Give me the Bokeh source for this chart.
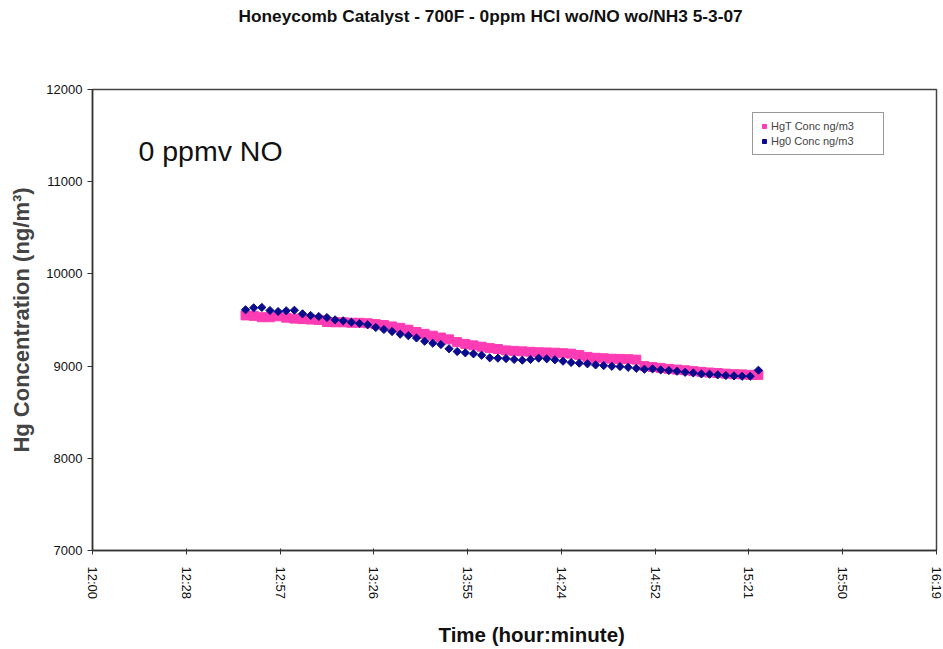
import math
from bokeh.plotting import figure
from bokeh.models import Label, FixedTicker, Legend, LegendItem, ColumnDataSource, Range1d, Title
from bokeh.embed import file_html
from bokeh.resources import INLINE

# ---------------- data ----------------
times = [
    "12:47:00", "12:49:30", "12:52:00", "12:54:30", "12:57:00", "12:59:30", "13:02:00", "13:04:30",
    "13:07:00", "13:09:30", "13:12:00", "13:14:30", "13:17:00", "13:19:30", "13:22:00", "13:24:30",
    "13:27:00", "13:29:30", "13:32:00", "13:34:30", "13:37:00", "13:39:30", "13:42:00", "13:44:30",
    "13:47:00", "13:49:30", "13:52:00", "13:54:30", "13:57:00", "13:59:30", "14:02:00", "14:04:30",
    "14:07:00", "14:09:30", "14:12:00", "14:14:30", "14:17:00", "14:19:30", "14:22:00", "14:24:30",
    "14:27:00", "14:29:30", "14:32:00", "14:34:30", "14:37:00", "14:39:30", "14:42:00", "14:44:30",
    "14:47:00", "14:49:30", "14:52:00", "14:54:30", "14:57:00", "14:59:30", "15:02:00", "15:04:30",
    "15:07:00", "15:09:30", "15:12:00", "15:14:30", "15:17:00", "15:19:30", "15:22:00", "15:24:30",
]

hgt_conc = [
    9550, 9545, 9530, 9530, 9540, 9525, 9515, 9510, 9505, 9500, 9478, 9475, 9475, 9470, 9470, 9465,
    9455, 9445, 9430, 9415, 9395, 9370, 9350, 9330, 9310, 9290, 9260, 9240, 9225, 9210, 9195, 9185,
    9170, 9165, 9160, 9155, 9150, 9148, 9145, 9140, 9135, 9120, 9100, 9090, 9085, 9080, 9078, 9075,
    9070, 9000, 8990, 8980, 8970, 8962, 8955, 8945, 8938, 8930, 8925, 8918, 8912, 8910, 8905, 8905,
]

hg0_conc = [
    9611, 9632, 9636, 9603, 9592, 9600, 9606, 9567, 9549, 9538, 9527, 9502, 9491, 9476, 9462, 9448,
    9419, 9397, 9375, 9346, 9330, 9305, 9270, 9248, 9234, 9188, 9158, 9144, 9133, 9118, 9090, 9086,
    9082, 9072, 9064, 9072, 9086, 9079, 9068, 9053, 9039, 9032, 9025, 9013, 9006, 8998, 8995, 8987,
    8976, 8966, 8970, 8959, 8952, 8944, 8933, 8926, 8915, 8912, 8905, 8898, 8894, 8890, 8890, 8955,
]

x_tick_days = [0.50, 0.52, 0.54, 0.56, 0.58, 0.60, 0.62, 0.64, 0.66, 0.68]
x_tick_labels = ["12:00", "12:28", "12:57", "13:26", "13:55", "14:24", "14:52", "15:21", "15:50", "16:19"]
y_ticks = [7000, 8000, 9000, 10000, 11000, 12000]

title_text = "Honeycomb Catalyst - 700F - 0ppm HCl wo/NO wo/NH3 5-3-07"
x_label_text = "Time (hour:minute)"
y_label_text = "Hg Concentration (ng/m\u00b3)"
note_text = "0 ppmv NO"
series_names = ["HgT Conc ng/m3", "Hg0 Conc ng/m3"]


def to_day(s):
    h, m, sec = (int(v) for v in s.split(":"))
    return (h * 3600 + m * 60 + sec) / 86400.0


x_days = [to_day(t) for t in times]
src = ColumnDataSource(data=dict(x=x_days, hgt=hgt_conc, hg0=hg0_conc))

FONT = "Liberation Sans"
PINK = "#FF3CB4"
NAVY = "#0A0A8C"

p = figure(
    width=943, height=649,
    x_range=Range1d(0.50, 0.68), y_range=Range1d(7000, 12000),
    output_backend="svg", toolbar_location=None,
    min_border_left=92, min_border_right=7, min_border_top=89, min_border_bottom=99,
)
p.background_fill_color = "white"
p.border_fill_color = "white"
p.outline_line_color = "#444444"
p.outline_line_width = 1.5
p.xgrid.visible = False
p.ygrid.visible = False

r_hgt = p.scatter("x", "hgt", source=src, marker="square", size=9,
                  fill_color=PINK, line_color=PINK)
r_hg0 = p.scatter("x", "hg0", source=src, marker="square", angle=math.pi / 4, size=5.8,
                  fill_color=NAVY, line_color=NAVY)

# x axis
xa = p.xaxis[0]
xa.ticker = FixedTicker(ticks=x_tick_days)
xa.major_label_overrides = {t: lab for t, lab in zip(x_tick_days, x_tick_labels)}
xa.major_label_orientation = -math.pi / 2
xa.major_label_text_font = FONT
xa.major_label_text_font_size = "13px"
xa.major_label_text_color = "#111111"
xa.major_label_standoff = 12
xa.major_tick_in = 2
xa.major_tick_out = 4
xa.minor_tick_in = 0
xa.minor_tick_out = 0
xa.axis_line_color = "#333333"
xa.axis_line_width = 1.5
xa.major_tick_line_color = "#333333"

# y axis
ya = p.yaxis[0]
ya.ticker = FixedTicker(ticks=y_ticks)
ya.major_label_text_font = FONT
ya.major_label_text_font_size = "13px"
ya.major_label_text_color = "#111111"
ya.major_tick_in = 0
ya.major_tick_out = 5
ya.minor_tick_in = 0
ya.minor_tick_out = 0
ya.axis_line_color = "#333333"
ya.axis_line_width = 1.5
ya.major_tick_line_color = "#333333"
ya.axis_label = y_label_text
ya.axis_label_text_font = FONT
ya.axis_label_text_font_style = "bold"
ya.axis_label_text_font_size = "22px"
ya.axis_label_standoff = 9

# spacer titles (blank) push the real title / x label outward
p.add_layout(Title(text=" ", text_font_size="10px", standoff=50), "above")
p.add_layout(Title(text=title_text, align="left", offset=146, standoff=2,
                   text_font=FONT, text_font_style="bold", text_font_size="17.3px",
                   text_color="#111111"), "above")
p.add_layout(Title(text=" ", text_font_size="10px", standoff=2), "below")
p.add_layout(Title(text=x_label_text, align="left", offset=346, standoff=6,
                   text_font=FONT, text_font_style="bold", text_font_size="20.5px",
                   text_color="#111111"), "below")

p.add_layout(Label(x=0.5098, y=11330, text=note_text, text_align="left",
                   text_baseline="alphabetic", text_font=FONT,
                   text_font_size="28.5px", text_color="#111111"))

legend = Legend(
    items=[LegendItem(label=series_names[0], renderers=[r_hgt]),
           LegendItem(label=series_names[1], renderers=[r_hg0])],
    location=(660, 395),
    label_text_font=FONT, label_text_font_size="11px",
    label_height=14, glyph_height=14, glyph_width=10, label_width=106,
    label_standoff=2, spacing=1, padding=6, margin=0,
    border_line_color="#333333", border_line_width=1.2,
    background_fill_color="white", background_fill_alpha=1.0,
)
p.add_layout(legend)

open("out.html", "w").write(file_html(p, INLINE))
